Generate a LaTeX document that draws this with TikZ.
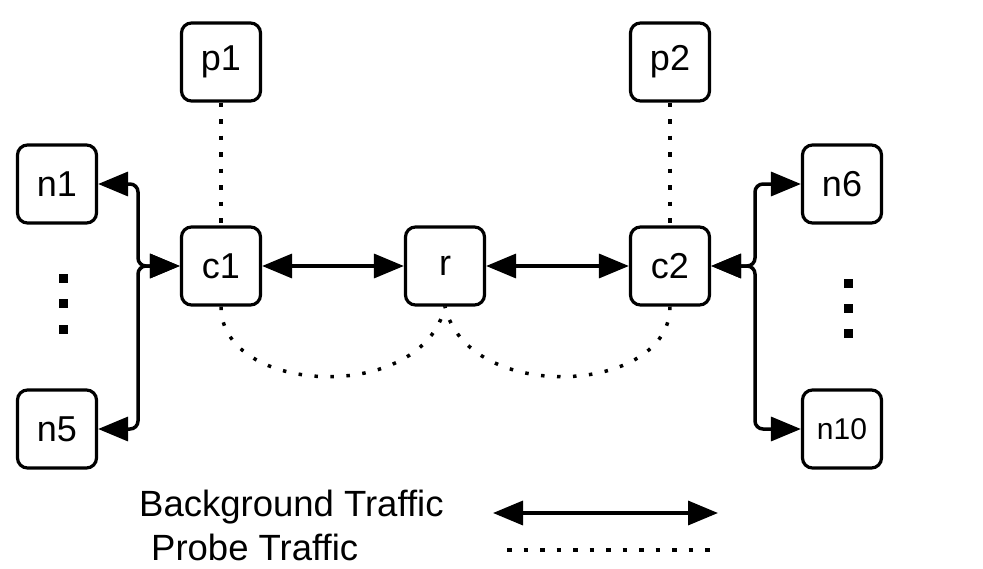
\documentclass[tikz,border=0pt]{standalone}
\usepackage{fontspec}
\setmainfont{Liberation Sans}
\usetikzlibrary{arrows.meta}
\begin{document}
\begin{tikzpicture}[x=1pt,y=-1pt,
 box/.style={draw, line width=3.2pt, rounded corners=10pt, minimum width=79pt, minimum height=78pt, inner sep=0pt, font=\fontsize{36}{42}\selectfont},
 bg/.style={line width=3.5pt, {Triangle[length=30pt,width=24pt]}-{Triangle[length=30pt,width=24pt]}},
 probe/.style={line width=4.5pt, dash pattern=on 4.5pt off 12pt},
 probecurve/.style={line width=3.5pt, dash pattern=on 3.5pt off 12.5pt},
 dotsq/.style={fill, minimum size=9pt, inner sep=0pt},
 legend/.style={anchor=west, inner sep=0pt, font=\fontsize{36.5}{42}\selectfont}
]
\useasboundingbox (0,0) rectangle (983,568);
\node[box] (p1) at (221,62) {p1};
\node[box] (p2) at (670,62) {p2};
\node[box] (n1) at (57,184) {n1};
\node[box] (c1) at (221,266) {c1};
\node[box] (r) at (445,266) {r};
\node[box] (c2) at (670,266) {c2};
\node[box] (n5) at (57,429) {n5};
\node[box] (n6) at (842,184) {n6};
\node[box, font=\fontsize{30}{35}\selectfont] (n10) at (842,429) {n10};
% ellipsis squares
\node[dotsq] (dl1) at (63,278) {};
\node[dotsq] (dl2) at (63,303) {};
\node[dotsq] (dl3) at (63,329) {};
\node[dotsq] (dr1) at (848,283) {};
\node[dotsq] (dr2) at (848,308) {};
\node[dotsq] (dr3) at (848,333) {};
% junctions
\coordinate (jl) at (138,266);
\coordinate (jr) at (755,266);
% background traffic
\draw[bg] (c1) -- (r);
\draw[bg] (r) -- (c2);
\draw[bg, rounded corners=8pt] (n1.east) -| (jl) -- (c1.west);
\draw[bg, rounded corners=8pt] (n5.east) -| (jl) -- (c1.west);
\draw[bg, rounded corners=8pt] (n6.west) -| (jr) -- (c2.east);
\draw[bg, rounded corners=8pt] (n10.west) -| (jr) -- (c2.east);
% probe traffic
\draw[probe] (p1.south) -- (c1.north);
\draw[probe] (p2.south) -- (c2.north);
\draw[probecurve] (c1.south) .. controls (221,395) and (422,405) .. (r.south);
\draw[probecurve] (c2.south) .. controls (670,395) and (468,405) .. (r.south);
% legend
\node[legend] (lbg) at (139,507) {Background Traffic};
\node[legend] (lpr) at (151,547) {Probe Traffic};
\coordinate (la1) at (493,513);
\coordinate (la2) at (718,513);
\coordinate (lp1) at (507,550);
\coordinate (lp2) at (714,550);
\draw[bg] (la1) -- (la2);
\draw[probe] (lp1) -- (lp2);
\end{tikzpicture}
\end{document}
